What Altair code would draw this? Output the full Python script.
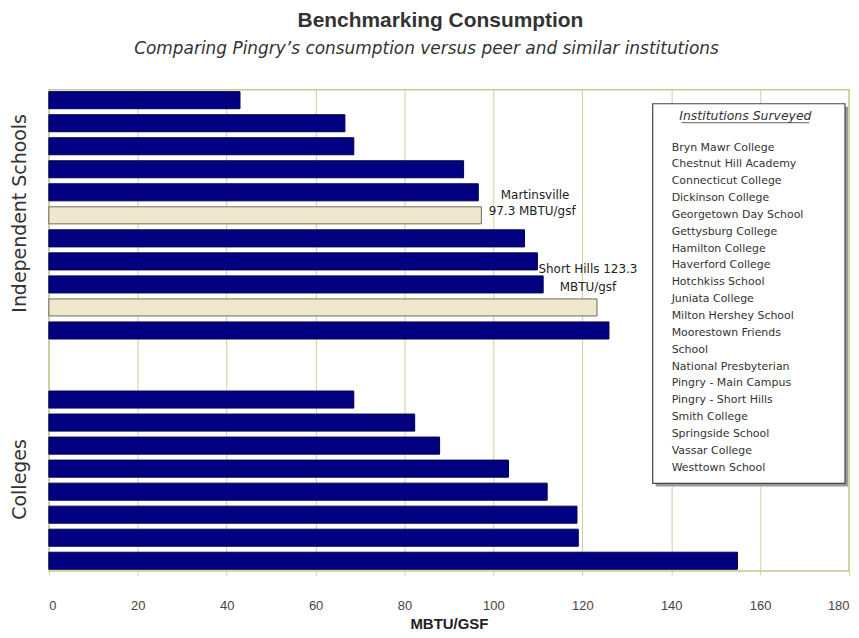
import altair as alt
import pandas as pd

# ---- data ----
school_values = [43.0, 66.6, 68.6, 93.3, 96.6, 97.3, 107.0, 109.9, 111.2, 123.3, 126.0]
school_kind = ["peer", "peer", "peer", "peer", "peer", "pingry", "peer", "peer", "peer", "pingry", "peer"]
college_values = [68.6, 82.3, 87.9, 103.4, 112.1, 118.8, 119.1, 154.9]
institutions = [
    "Bryn Mawr College", "Chestnut Hill Academy", "Connecticut College", "Dickinson College",
    "Georgetown Day School", "Gettysburg College", "Hamilton College", "Haverford College",
    "Hotchkiss School", "Juniata College", "Milton Hershey School", "Moorestown Friends",
    "School", "National Presbyterian", "Pingry - Main Campus", "Pingry - Short Hills",
    "Smith College", "Springside School", "Vassar College", "Westtown School",
]
x_ticks = [0, 20, 40, 60, 80, 100, 120, 140, 160, 180]

school_slots = [f"S{i:02d}" for i in range(len(school_values))]
gap_slots = ["G1", "G2"]
college_slots = [f"C{i:02d}" for i in range(len(college_values))]
slot_domain = school_slots + gap_slots + college_slots

bars = pd.DataFrame({
    "slot": school_slots + college_slots,
    "value": school_values + college_values,
    "kind": school_kind + ["peer"] * len(college_values),
})

W, H = 803, 483
FONT = "Liberation Sans"
WIDE = "DejaVu Sans"

one = pd.DataFrame({"a": [0]})

bar_layer = alt.Chart(bars).mark_bar(strokeWidth=1).encode(
    y=alt.Y("slot:N", scale=alt.Scale(domain=slot_domain, paddingInner=0.26, paddingOuter=0.08), axis=None),
    x=alt.X("value:Q", scale=alt.Scale(domain=[0, 180], nice=False),
            axis=alt.Axis(values=x_ticks, grid=True, gridColor="#cfcf9c", gridWidth=1,
                          domain=False, tickColor="#cfcf9c", tickSize=4,
                          labelFont=FONT, labelFontSize=13, labelColor="#444444", labelPadding=25,
                          title="MBTU/GSF", titleFont=FONT, titleFontSize=15, titleFontWeight="bold",
                          titleColor="#222222", titlePadding=4)),
    color=alt.Color("kind:N", scale=alt.Scale(domain=["peer", "pingry"], range=["#000080", "#efe8cc"]), legend=None),
    stroke=alt.Stroke("kind:N", scale=alt.Scale(domain=["peer", "pingry"], range=["#000050", "#6b6b5a"]), legend=None),
)

def txt(x, y, text, size=11, font=WIDE, **kw):
    return alt.Chart(one).mark_text(text=text, font=font, fontSize=size, **kw).encode(
        x=alt.value(x), y=alt.value(y))

title = txt(393, -69, "Benchmarking Consumption", size=21, font=FONT, fontWeight="bold",
            color="#333333", baseline="middle")
subtitle = txt(379, -41, "Comparing Pingry\u2019s consumption versus peer and similar institutions",
               size=17, fontStyle="italic", color="#333333", baseline="middle")

grp1 = txt(-29, 124, "Independent Schools", size=19, angle=270, color="#333333", baseline="middle")
grp2 = txt(-29, 391, "Colleges", size=19, angle=270, color="#333333", baseline="middle")

ann1a = txt(488, 106, "Martinsville", size=12, color="#222222", baseline="middle")
ann1b = txt(485, 122, "97.3 MBTU/gsf", size=12, color="#222222", baseline="middle")
ann2a = txt(541, 180, "Short Hills 123.3", size=12, color="#222222", baseline="middle")
ann2b = txt(541, 198, "MBTU/gsf", size=12, color="#222222", baseline="middle")

shadow = alt.Chart(one).mark_rect(color="#9a9a9a").encode(
    x=alt.value(609), x2=alt.value(802), y=alt.value(17), y2=alt.value(398))
box = alt.Chart(one).mark_rect(fill="white", stroke="#444444", strokeWidth=1.2).encode(
    x=alt.value(606), x2=alt.value(799), y=alt.value(14), y2=alt.value(395))
box_title = txt(699, 26, "Institutions Surveyed", size=12.5, fontStyle="italic", color="#333333", baseline="middle")
underline = alt.Chart(one).mark_rule(color="#333333", strokeWidth=0.8).encode(
    x=alt.value(635), x2=alt.value(763), y=alt.value(33))
box_list = txt(625, 52, institutions, size=11, color="#333333", align="left", baseline="top", lineHeight=16.9)

chart = alt.layer(
    bar_layer, title, subtitle, grp1, grp2, ann1a, ann1b, ann2a, ann2b,
    shadow, box, box_title, underline, box_list,
).properties(
    width=W, height=H,
    autosize=alt.AutoSizeParams(type="none"),
    padding={"left": 41, "top": 81, "right": 2, "bottom": 64},
    background="white",
).configure_view(stroke="#c8c890", strokeWidth=1.5)

chart.save("out.html", embed_options={"renderer": "svg", "actions": False})
